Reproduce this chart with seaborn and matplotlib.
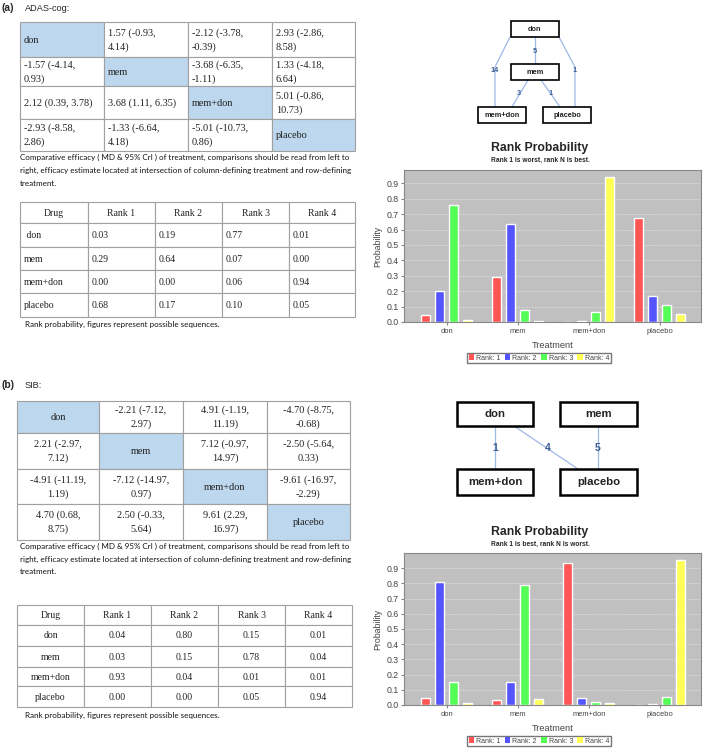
import pandas as pd
import seaborn as sns
import matplotlib.pyplot as plt
from matplotlib.patches import Rectangle

sns.set_style('white')
plt.rcParams['font.family'] = ['Liberation Sans', 'DejaVu Sans']

W, H = 709, 748

# ---- datos ----
treatments = ['don', 'mem', 'mem+don', 'placebo']
rank_labels = ['Rank: 1', 'Rank: 2', 'Rank: 3', 'Rank: 4']
rank_headers = ['Drug', 'Rank 1', 'Rank 2', 'Rank 3', 'Rank 4']

# tabla de comparaciones (ADAS-cog)
league_a = [
    ['don', '1.57 (-0.93,\n4.14)', '-2.12 (-3.78,\n-0.39)', '2.93 (-2.86,\n8.58)'],
    ['-1.57 (-4.14,\n0.93)', 'mem', '-3.68 (-6.35,\n-1.11)', '1.33 (-4.18,\n6.64)'],
    ['2.12 (0.39, 3.78)', '3.68 (1.11, 6.35)', 'mem+don', '5.01 (-0.86,\n10.73)'],
    ['-2.93 (-8.58,\n2.86)', '-1.33 (-6.64,\n4.18)', '-5.01 (-10.73,\n0.86)', 'placebo'],
]
# tabla de comparaciones (SIB)
league_b = [
    ['don', '-2.21 (-7.12,\n2.97)', '4.91 (-1.19,\n11.19)', '-4.70 (-8.75,\n-0.68)'],
    ['2.21 (-2.97,\n7.12)', 'mem', '7.12 (-0.97,\n14.97)', '-2.50 (-5.64,\n0.33)'],
    ['-4.91 (-11.19,\n1.19)', '-7.12 (-14.97,\n0.97)', 'mem+don', '-9.61 (-16.97,\n-2.29)'],
    ['4.70 (0.68,\n8.75)', '2.50 (-0.33,\n5.64)', '9.61 (2.29,\n16.97)', 'placebo'],
]

# probabilidades de rango (tablas)
rank_tab_a = [[0.03, 0.19, 0.77, 0.01],
              [0.29, 0.64, 0.07, 0.00],
              [0.00, 0.00, 0.06, 0.94],
              [0.68, 0.17, 0.10, 0.05]]
rank_tab_b = [[0.04, 0.80, 0.15, 0.01],
              [0.03, 0.15, 0.78, 0.04],
              [0.93, 0.04, 0.01, 0.01],
              [0.00, 0.00, 0.05, 0.94]]

bars_a_r1 = [0.043, 0.29, 0.0, 0.677]
bars_a_r2 = [0.20, 0.636, 0.008, 0.17]
bars_a_r3 = [0.76, 0.08, 0.063, 0.108]
bars_a_r4 = [0.01, 0.005, 0.94, 0.054]

bars_b_r1 = [0.044, 0.033, 0.934, 0.0]
bars_b_r2 = [0.807, 0.15, 0.046, 0.008]
bars_b_r3 = [0.15, 0.79, 0.022, 0.05]
bars_b_r4 = [0.015, 0.037, 0.013, 0.952]

# red de comparaciones: (nodo, nodo, numero de estudios)
edges_a = [('don', 'mem', 5), ('don', 'mem+don', 14), ('don', 'placebo', 1),
           ('mem', 'mem+don', 3), ('mem', 'placebo', 1)]
edges_b = [('don', 'mem+don', 1), ('don', 'placebo', 4), ('mem', 'placebo', 5)]

caption_1 = ['Comparative efficacy ( MD & 95% CrI ) of treatment, comparisons should be read from left to',
             'right, efficacy estimate located at intersection of column-defining treatment and row-defining',
             'treatment.']
caption_2 = 'Rank probability, figures represent possible sequences.'

bar_colors = ['#ff5555', '#5555ff', '#55ff55', '#ffff55']
shade = '#bdd7ee'
edge_col = '#9db9e6'
lab_col = '#3d5f95'

fig = plt.figure(figsize=(W / 100, H / 100), dpi=100)
ov = fig.add_axes([0, 0, 1, 1])
ov.set_xlim(0, W)
ov.set_ylim(H, 0)
ov.axis('off')


def rect(x0, y0, x1, y1):
    return [x0 / W, 1 - y1 / H, (x1 - x0) / W, (y1 - y0) / H]


def draw_table(xs, ys, cells, diag=False, align='left', fs=7.4, header=False):
    for i in range(len(ys) - 1):
        for j in range(len(xs) - 1):
            x0, x1, y0, y1 = xs[j], xs[j + 1], ys[i], ys[i + 1]
            fc = shade if (diag and i == j) else 'white'
            ov.add_patch(Rectangle((x0, y0), x1 - x0, y1 - y0, fc=fc, ec='#a0a0a0', lw=0.8))
            a = align
            if header and i == 0:
                a = 'center'
            tx = x0 + 4 if a == 'left' else (x0 + x1) / 2
            ov.text(tx, (y0 + y1) / 2 + 0.5, cells[i][j], ha=a, va='center', fontsize=fs,
                    family=['Liberation Serif', 'DejaVu Serif'], color='#222222', linespacing=1.55)


def rank_cells(tab):
    rows = [rank_headers]
    for name, vals in zip(treatments, tab):
        rows.append([name] + [f'{v:.2f}' for v in vals])
    return rows


def draw_network(boxes, paths, edges, fs, lab_fs, lw):
    for (n1, n2, k) in edges:
        pts, lab = paths[(n1, n2)]
        ov.plot([p[0] for p in pts], [p[1] for p in pts], color=edge_col, lw=0.9, zorder=2)
        ov.text(lab[0], lab[1], str(k), ha='center', va='center', fontsize=lab_fs,
                fontweight='bold', color=lab_col, zorder=3)
    for name, (x0, y0, x1, y1) in boxes.items():
        ov.add_patch(Rectangle((x0, y0), x1 - x0, y1 - y0, fc='white', ec='black', lw=lw, zorder=4))
        ov.text((x0 + x1) / 2, (y0 + y1) / 2, name, ha='center', va='center', fontsize=fs,
                fontweight='bold', color='#222222', zorder=5)


def draw_chart(box, r1, r2, r3, r4, ylim, title, subtitle, title_y, leg_y):
    df = pd.DataFrame({'Treatment': treatments * 4,
                       'Rank': [r for r in rank_labels for _ in treatments],
                       'Probability': r1 + r2 + r3 + r4})
    ax = fig.add_axes(rect(*box))
    sns.barplot(data=df, x='Treatment', y='Probability', hue='Rank', order=treatments,
                hue_order=rank_labels, palette=bar_colors, saturation=1, width=0.79,
                gap=0.35, ax=ax, legend=False)
    ax.set_facecolor('#c0c0c0')
    ax.set_xlim(-0.6, 3.58)
    ax.set_ylim(0, ylim)
    ax.set_yticks([i / 10 for i in range(10)])
    ax.set_yticklabels([f'{i / 10:.1f}' for i in range(10)])
    ax.yaxis.grid(True, color='#e8e8e8', ls=(0, (2, 2)), lw=0.5)
    ax.set_axisbelow(True)
    for s in ax.spines.values():
        s.set_color('#888888')
        s.set_linewidth(0.8)
    ax.tick_params(axis='y', labelsize=6.3, labelcolor='#444444', length=2, color='#888888', pad=1.5, left=True)
    ax.tick_params(axis='x', labelsize=5.4, labelcolor='#444444', length=2, color='#888888', pad=2.5, bottom=True)
    ax.set_xlabel('Treatment', fontsize=6.6, color='#444444', labelpad=4)
    ax.set_ylabel('Probability', fontsize=6.3, color='#444444', labelpad=3)
    fig.text(540 / W, 1 - title_y / H, title, ha='center', va='center', fontsize=8.8, fontweight='bold')
    fig.text(540 / W, 1 - (title_y + 12) / H, subtitle, ha='center', va='center', fontsize=4.8, fontweight='bold')
    handles = [Rectangle((0, 0), 1, 1, fc=c, ec='none') for c in bar_colors]
    fig.legend(handles, rank_labels, loc='center', bbox_to_anchor=(539 / W, 1 - leg_y / H), ncol=4,
               fontsize=5, frameon=True, fancybox=False, edgecolor='#555555', handlelength=0.8,
               handleheight=0.8, handletextpad=0.3, columnspacing=0.6, borderpad=0.25,
               labelcolor='#444444')
    return ax


def cap_lines(y0, x0=20):
    for k, line in enumerate(caption_1):
        ov.text(x0, y0 + 13 * k, line, ha='left', va='center', fontsize=5.8,
                family=['Lato', 'DejaVu Sans'], color='#111111')


# ---- panel (a) ----
ov.text(2, 8, '(a)', ha='left', va='center', fontsize=7.4, fontweight='bold')
ov.text(25, 8, 'ADAS-cog:', ha='left', va='center', fontsize=6.6)
draw_table([20, 104, 188, 272, 355], [22, 57, 86, 119, 151], league_a, diag=True, align='left')
cap_lines(157)
draw_table([20, 88, 155, 222, 289, 355], [202, 223, 247, 270, 293, 317],
           [[' ' + c if c == 'don' else c for c in r] for r in rank_cells(rank_tab_a)],
           align='left', fs=7, header=True)
ov.text(25, 324, caption_2, ha='left', va='center', fontsize=5.8, family=['Lato', 'DejaVu Sans'], color='#111111')

boxes_a = {'don': (511, 21, 559, 37), 'mem': (511, 64, 559, 80),
           'mem+don': (478, 107, 526, 123), 'placebo': (543, 107, 591, 123)}
paths_a = {('don', 'mem'): ([(535, 37), (535, 64)], (535, 51)),
           ('don', 'mem+don'): ([(510, 37), (495, 67), (495, 107)], (495, 70)),
           ('don', 'placebo'): ([(559, 37), (575, 67), (575, 107)], (575, 70)),
           ('mem', 'mem+don'): ([(528, 80), (512, 107)], (519, 93)),
           ('mem', 'placebo'): ([(541, 80), (560, 107)], (551, 93))}
draw_network(boxes_a, paths_a, edges_a, fs=5.3, lab_fs=5.3, lw=1.2)

draw_chart((404, 170, 701, 322), bars_a_r1, bars_a_r2, bars_a_r3, bars_a_r4, 0.987,
           'Rank Probability', 'Rank 1 is worst, rank N is best.', 148, 358)

# ---- panel (b) ----
ov.text(2, 385, '(b)', ha='left', va='center', fontsize=7.4, fontweight='bold')
ov.text(25, 385, 'SIB:', ha='left', va='center', fontsize=6.6)
draw_table([17, 99, 183, 267, 350], [401, 433, 469, 504, 540], league_b, diag=True, align='center')
cap_lines(546)
draw_table([17, 84, 151, 218, 285, 352], [605, 625, 646, 667, 686, 707], rank_cells(rank_tab_b),
           align='center', fs=7)
ov.text(25, 715, caption_2, ha='left', va='center', fontsize=5.8, family=['Lato', 'DejaVu Sans'], color='#111111')

boxes_b = {'don': (457, 402, 533, 426), 'mem': (560, 402, 637, 426),
           'mem+don': (457, 469, 533, 495), 'placebo': (560, 469, 637, 495)}
paths_b = {('don', 'mem+don'): ([(495, 426), (495, 469)], (495, 448)),
           ('don', 'placebo'): ([(514, 426), (578, 469)], (548, 448)),
           ('mem', 'placebo'): ([(598, 426), (598, 469)], (598, 448))}
draw_network(boxes_b, paths_b, edges_b, fs=8.2, lab_fs=7.5, lw=1.8)

draw_chart((404, 553, 701, 705), bars_b_r1, bars_b_r2, bars_b_r3, bars_b_r4, 1.0,
           'Rank Probability', 'Rank 1 is best, rank N is worst.', 532, 741)

fig.savefig('out.png', dpi=100)
